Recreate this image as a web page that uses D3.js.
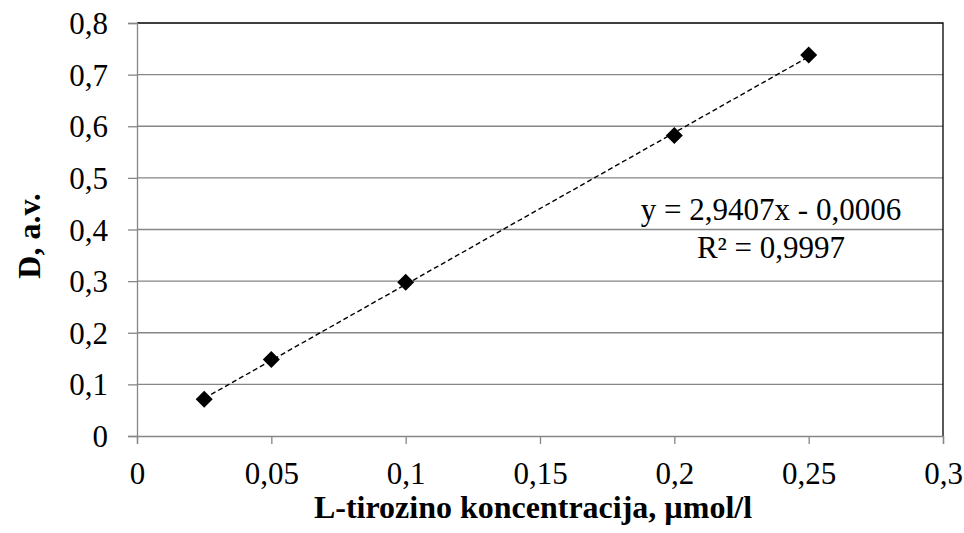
<!DOCTYPE html>
<html>
<head>
<meta charset="utf-8">
<script src="https://cdn.jsdelivr.net/npm/d3@7/dist/d3.min.js"></script>
<style>
  html, body { margin: 0; padding: 0; background: #fff; }
  svg { display: block; }
  text { font-family: "Liberation Serif", "Times New Roman", serif; fill: #000; }
</style>
</head>
<body>
<svg id="chart" width="964" height="533"></svg>
<script>
// Calibration data: L-tyrosine concentration vs optical density
const concentrations = [0.025, 0.05, 0.1, 0.2, 0.25];
const densities = [0.071, 0.148, 0.298, 0.582, 0.738];

// Linear trend line coefficients and annotation
const slope = 2.9407;
const intercept = -0.0006;
const equationLines = ["y = 2,9407x - 0,0006", "R² = 0,9997"];

const xTicks = [0, 0.05, 0.1, 0.15, 0.2, 0.25, 0.3];
const yTicks = [0, 0.1, 0.2, 0.3, 0.4, 0.5, 0.6, 0.7, 0.8];

const xTitle = "L-tirozino koncentracija, µmol/l";
const yTitle = "D, a.v.";

const svg = d3.select("#chart");
const plot = { left: 137, right: 943, top: 23, bottom: 436 };
const fontSize = 31;

const x = d3.scaleLinear().domain([0, 0.3]).range([plot.left, plot.right]);
const y = d3.scaleLinear().domain([0, 0.8]).range([plot.bottom, plot.top]);

const fmt = v => String(+v.toFixed(2)).replace(".", ",");

// horizontal gridlines
svg.append("g")
  .selectAll("line")
  .data(yTicks.filter(v => v > 0 && v < 0.8))
  .join("line")
  .attr("x1", plot.left).attr("x2", plot.right)
  .attr("y1", d => y(d)).attr("y2", d => y(d))
  .attr("stroke", "#868686").attr("stroke-width", 1.3);

// top and right frame
svg.append("path")
  .attr("d", `M${plot.left},${plot.top}H${plot.right}V${plot.bottom}`)
  .attr("fill", "none").attr("stroke", "#000").attr("stroke-width", 1.3);

// y axis
const yAxis = svg.append("g")
  .attr("transform", `translate(${plot.left},0)`)
  .call(d3.axisLeft(y).tickValues(yTicks).tickFormat(fmt).tickSize(9).tickPadding(20));
yAxis.select(".domain").attr("stroke", "#868686").attr("stroke-width", 1.3);
yAxis.selectAll(".tick line").attr("stroke", "#868686").attr("stroke-width", 1.3);
yAxis.selectAll(".tick text")
  .style("font-size", fontSize + "px").attr("dy", "0.34em");

// x axis
const xAxis = svg.append("g")
  .attr("transform", `translate(0,${plot.bottom})`)
  .call(d3.axisBottom(x).tickValues(xTicks).tickFormat(fmt).tickSize(8));
xAxis.select(".domain").attr("stroke", "#868686").attr("stroke-width", 1.3);
xAxis.selectAll(".tick line").attr("stroke", "#868686").attr("stroke-width", 1.3);
xAxis.selectAll(".tick text")
  .style("font-size", fontSize + "px").attr("y", 48).attr("dy", 0);

// trend line over the measured range
const xMin = d3.min(concentrations), xMax = d3.max(concentrations);
svg.append("line")
  .attr("x1", x(xMin)).attr("y1", y(slope * xMin + intercept))
  .attr("x2", x(xMax)).attr("y2", y(slope * xMax + intercept))
  .attr("stroke", "#000").attr("stroke-width", 1.4)
  .attr("stroke-dasharray", "5,3");

// diamond markers
const r = 8.5;
svg.append("g")
  .selectAll("path")
  .data(concentrations.map((c, i) => [c, densities[i]]))
  .join("path")
  .attr("d", d => {
    const cx = x(d[0]), cy = y(d[1]);
    return `M${cx},${cy - r}L${cx + r},${cy}L${cx},${cy + r}L${cx - r},${cy}Z`;
  })
  .attr("fill", "#000");

// regression annotation
svg.append("g")
  .selectAll("text")
  .data(equationLines)
  .join("text")
  .attr("x", 771)
  .attr("y", (d, i) => 220 + i * 38)
  .attr("text-anchor", "middle")
  .style("font-size", fontSize + "px")
  .text(d => d);

// axis titles
svg.append("text")
  .attr("x", 533).attr("y", 518)
  .attr("text-anchor", "middle")
  .style("font-size", "32px").attr("font-weight", "bold")
  .text(xTitle);

svg.append("text")
  .attr("transform", `translate(40,236) rotate(-90)`)
  .attr("text-anchor", "middle")
  .style("font-size", "32px").attr("font-weight", "bold")
  .text(yTitle);
</script>
</body>
</html>
